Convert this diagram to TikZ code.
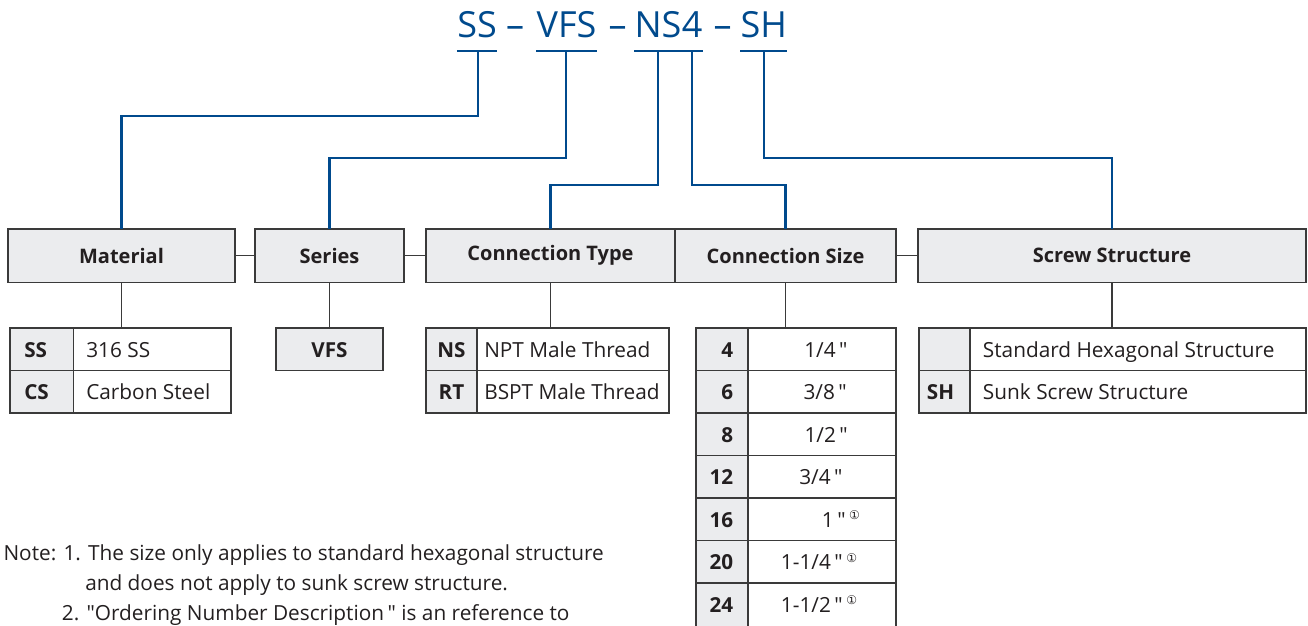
\documentclass[tikz,border=0pt]{standalone}
\usepackage{fontspec}
\setmainfont{Open Sans}[Ligatures=TeXOff]
\newfontfamily\symf{DejaVu Sans}
\newlength\pxu \setlength\pxu{0.75pt}
\definecolor{tblue}{HTML}{004A8D}
\definecolor{bordc}{HTML}{3A3A3A}
\definecolor{hdrfill}{HTML}{EBECEE}
\definecolor{codefill}{HTML}{EBECEE}
\definecolor{txt}{HTML}{231F20}
\newcommand\circone{\,\raisebox{0.7ex}{\symf\fontsize{9}{9}\selectfont ①}}
\begin{document}
\begin{tikzpicture}[x=0.75pt,y=-0.75pt,
  hdr/.style={draw=bordc, fill=hdrfill, line width=1.1pt, inner sep=0pt, outer sep=0pt,
    minimum height=53.5\pxu, font=\fontsize{15}{18}\selectfont\bfseries, text=txt},
  cellc/.style={draw=bordc, fill=codefill, line width=1.1pt, inner sep=0pt, outer sep=0pt, minimum height=42.5\pxu},
  cellv/.style={draw=bordc, fill=white, line width=1.1pt, inner sep=0pt, outer sep=0pt, minimum height=42.5\pxu},
  codet/.style={font=\fontsize{15.5}{18}\selectfont\bfseries, text=txt, inner sep=0pt},
  valt/.style={font=\fontsize{15.6}{18}\selectfont, text=txt, inner sep=0pt},
  titlet/.style={font=\fontsize{27}{30}\selectfont, text=tblue, inner sep=0pt, anchor=base},
  notet/.style={font=\fontsize{15.6}{18}\selectfont, text=txt, inner sep=0pt, anchor=base west},
  bl/.style={draw=tblue, line width=1.6pt},
  kl/.style={draw=bordc, line width=1.1pt}]
\useasboundingbox (0,0) rectangle (1308,625);
\clip (0,0) rectangle (1308,625);

% title
\node[titlet] (t1) at (477,37.3) {SS};
\node[titlet] (d1) at (515,37.3) {–};
\node[titlet] (t2) at (566.5,37.3) {VFS};
\node[titlet] (d2) at (617.5,37.3) {–};
\node[titlet] (t3) at (658,37.3) {NS};
\node[titlet,anchor=base west] (t4) at (t3.base east) {4};
\node[titlet] (d3) at (722.5,37.3) {–};
\node[titlet] (t5) at (763.8,37.3) {SH};

\coordinate (b1) at (478,50.7);
\coordinate (b2) at (565.6,50.7);
\coordinate (b3) at (658,50.7);
\coordinate (b4) at (692,50.7);
\coordinate (b5) at (763.8,50.7);
\coordinate (j1) at (0,116.3);
\coordinate (j2) at (0,157.7);
\coordinate (j3) at (0,184.7);

% header boxes
\node[hdr, minimum width=227\pxu] (mat) at (121.5,255.75) {Material};
\node[hdr, minimum width=149\pxu] (ser) at (329.5,255.75) {Series};
\node[hdr, minimum width=249\pxu] (ctype) at (550.5,255.75) {Connection Type};
\node[hdr, minimum width=221\pxu] (csize) at (785.5,255.75) {Connection Size};
\node[hdr, minimum width=388\pxu] (screw) at (1112,255.75) {Screw Structure};

\draw[kl] (mat.east) -- (ser.west);
\draw[kl] (ser.east) -- (ctype.west);
\draw[kl] (csize.east) -- (screw.west);

% blue connectors
\draw[bl] (t1.west |- b1) -- (t1.east |- b1);
\draw[bl] (t2.west |- b2) -- (t2.east |- b2);
\draw[bl] (t3.west |- b3) -- (t3.east |- b3);
\draw[bl] (t4.west |- b4) -- (t4.east |- b4);
\draw[bl] (t5.west |- b5) -- (t5.east |- b5);
\draw[bl] (b1) -- (b1 |- j1) -| (mat.north);
\draw[bl] (b2) -- (b2 |- j2) -| (ser.north);
\draw[bl] (b3) -- (b3 |- j3) -| (ctype.north);
\draw[bl] (b4) -- (b4 |- j3) -| (csize.north);
\draw[bl] (b5) -- (b5 |- j2) -| (screw.north);

% Material table
\node[cellc, minimum width=63.5\pxu] (m1c) at (41.75,349.25) {};
\node[cellv, minimum width=157.5\pxu] (m1v) at (152.25,349.25) {};
\node[cellc, minimum width=63.5\pxu] (m2c) at (41.75,391.75) {};
\node[cellv, minimum width=157.5\pxu] (m2v) at (152.25,391.75) {};
\node[codet, anchor=base west] (m1ct) at (24,357.3) {SS};
\node[codet, anchor=base west] (m2ct) at (24,399.8) {CS};
\node[valt, anchor=base west] (m1vt) at (86,357.3) {316 SS};
\node[valt, anchor=base west] (m2vt) at (86,399.8) {Carbon Steel};
\draw[kl] (mat.south) -- (mat.south |- m1c.north);

% Series table
\node[cellc, minimum width=107\pxu] (s1c) at (329.5,349.25) {};
\node[codet, anchor=base] (s1ct) at (329.5,357.3) {VFS};
\draw[kl] (ser.south) -- (ser.south |- s1c.north);

% Connection type table
\node[cellc, minimum width=51\pxu] (c1c) at (451.5,349.25) {};
\node[cellv, minimum width=192\pxu] (c1v) at (573,349.25) {};
\node[cellc, minimum width=51\pxu] (c2c) at (451.5,391.75) {};
\node[cellv, minimum width=192\pxu] (c2v) at (573,391.75) {};
\node[codet, anchor=base] (c1ct) at (451.5,357.3) {NS};
\node[codet, anchor=base] (c2ct) at (451.5,399.8) {RT};
\node[valt, anchor=base west] (c1vt) at (484,357.3) {NPT Male Thread};
\node[valt, anchor=base west] (c2vt) at (484,399.8) {BSPT Male Thread};
\draw[kl] (ctype.south) -- (ctype.south |- c1c.north);

% Connection size table
\foreach \i/\yc/\hh in {1/349.25/42.5, 2/391.75/42.5, 3/434.25/42.5, 4/476.75/42.5,
  5/519.25/42.5, 6/561.75/42.5, 7/605.5/45}{
  \node[cellc, minimum width=52\pxu, minimum height=\hh\pxu] (z\i c) at (722,\yc) {};
  \node[cellv, minimum width=148\pxu, minimum height=\hh\pxu] (z\i v) at (822,\yc) {};
}
\foreach \i/\yb/\c/\v/\xv in {
  1/357.3/4/{1/4\,"}/804,
  2/399.8/6/{3/8\,"}/803.3,
  3/442.3/8/{1/2\,"}/804.3,
  4/484.8/12/{3/4\,"}/799,
  5/527.3/16/{1\,"\circone}/821.7,
  6/569.8/20/{1-1/4\,"\circone}/780.7,
  7/612.3/24/{1-1/2\,"\circone}/780.7}{
  \node[codet, anchor=base east] (z\i ct) at (733.5,\yb) {\c};
  \node[valt, anchor=base west] (z\i vt) at (\xv,\yb) {\v};
}
\draw[kl] (csize.south) -- (csize.south |- z1c.north);

% Screw structure table
\node[cellc, minimum width=51\pxu] (w1c) at (944.5,349.25) {};
\node[cellv, minimum width=336\pxu] (w1v) at (1138,349.25) {};
\node[cellc, minimum width=51\pxu] (w2c) at (944.5,391.75) {};
\node[cellv, minimum width=336\pxu] (w2v) at (1138,391.75) {};
\node[codet, anchor=base] (w2ct) at (940.5,399.8) {SH};
\node[valt, anchor=base west] (w1vt) at (982.7,357.3) {Standard Hexagonal Structure};
\node[valt, anchor=base west] (w2vt) at (982.7,399.8) {Sunk Screw Structure};
\draw[kl] (screw.south) -- (screw.south |- w1c.north);

% notes
\node[notet] (n1) at (3.3,560) {Note: 1. The size only applies to standard hexagonal structure};
\node[notet] (n2) at (85,590.7) {and does not apply to sunk screw structure.};
\node[notet] (n3) at (61.7,620) {2. "Ordering Number Description\," is an reference to};
\end{tikzpicture}
\end{document}
